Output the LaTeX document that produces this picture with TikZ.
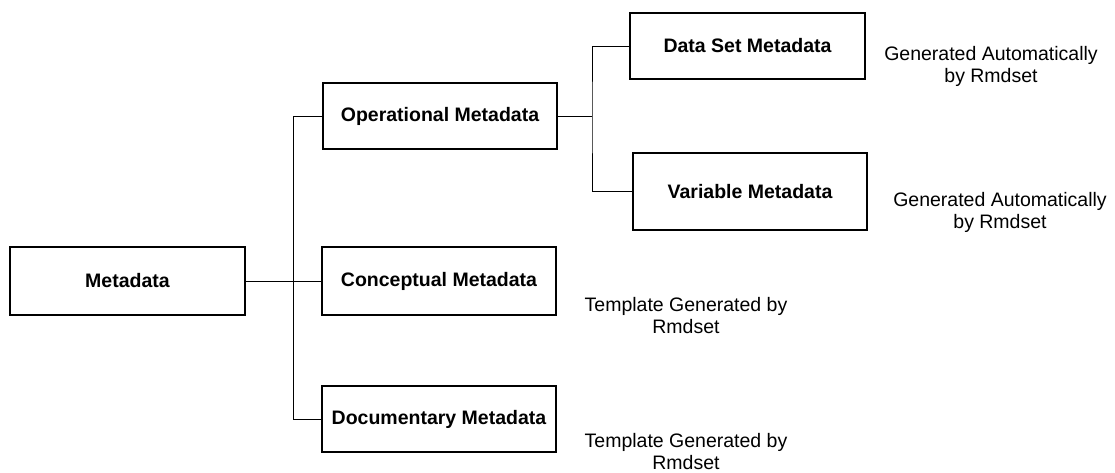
\documentclass[tikz,border=0pt]{standalone}
\usepackage{fontspec}
\setmainfont{Liberation Sans}
\begin{document}
\begin{tikzpicture}[x=1pt,y=-1pt,
  box/.style={draw=black,line width=1.1pt,rectangle,inner sep=0pt,minimum width=234pt,
    font=\fontsize{19.5}{22}\selectfont\bfseries},
  note/.style={align=center,inner sep=0pt,font=\fontsize{19.5}{22}\selectfont},
  link/.style={draw=black,line width=0.9pt}]
\useasboundingbox (0,0) rectangle (1115,472);
\node[box,minimum width=235pt,minimum height=68pt] (meta) at (127.5,281) {Metadata};
\node[box,minimum height=66pt] (oper) at (440,116) {Operational Metadata};
\node[box,minimum height=68pt] (conc) at (439,281) {Conceptual Metadata};
\node[box,minimum height=66pt] (docu) at (439,419) {Documentary Metadata};
\node[box,minimum width=235pt,minimum height=66pt] (dset) at (747.5,46) {Data Set Metadata};
\node[box,minimum height=77pt] (var) at (750,191.5) {Variable Metadata};
\node[note] (g1) at (991,66) {Generated Automatically\\by Rmdset};
\node[note] (g2) at (1000,212) {Generated Automatically\\by Rmdset};
\node[note] (t1) at (686,316) {Template Generated by\\Rmdset};
\node[note] (t2) at (686,452) {Template Generated by\\Rmdset};
\coordinate (trunk) at (293,116);
\coordinate (br) at (592,116);
\draw[link] (meta.east) -- (conc.west);
\draw[link] (oper.west) -- (trunk) |- (docu.west);
\draw[link] (oper.east) -- (br);
\draw[link] (dset.west) -| (br) |- (var.west);
\end{tikzpicture}
\end{document}
